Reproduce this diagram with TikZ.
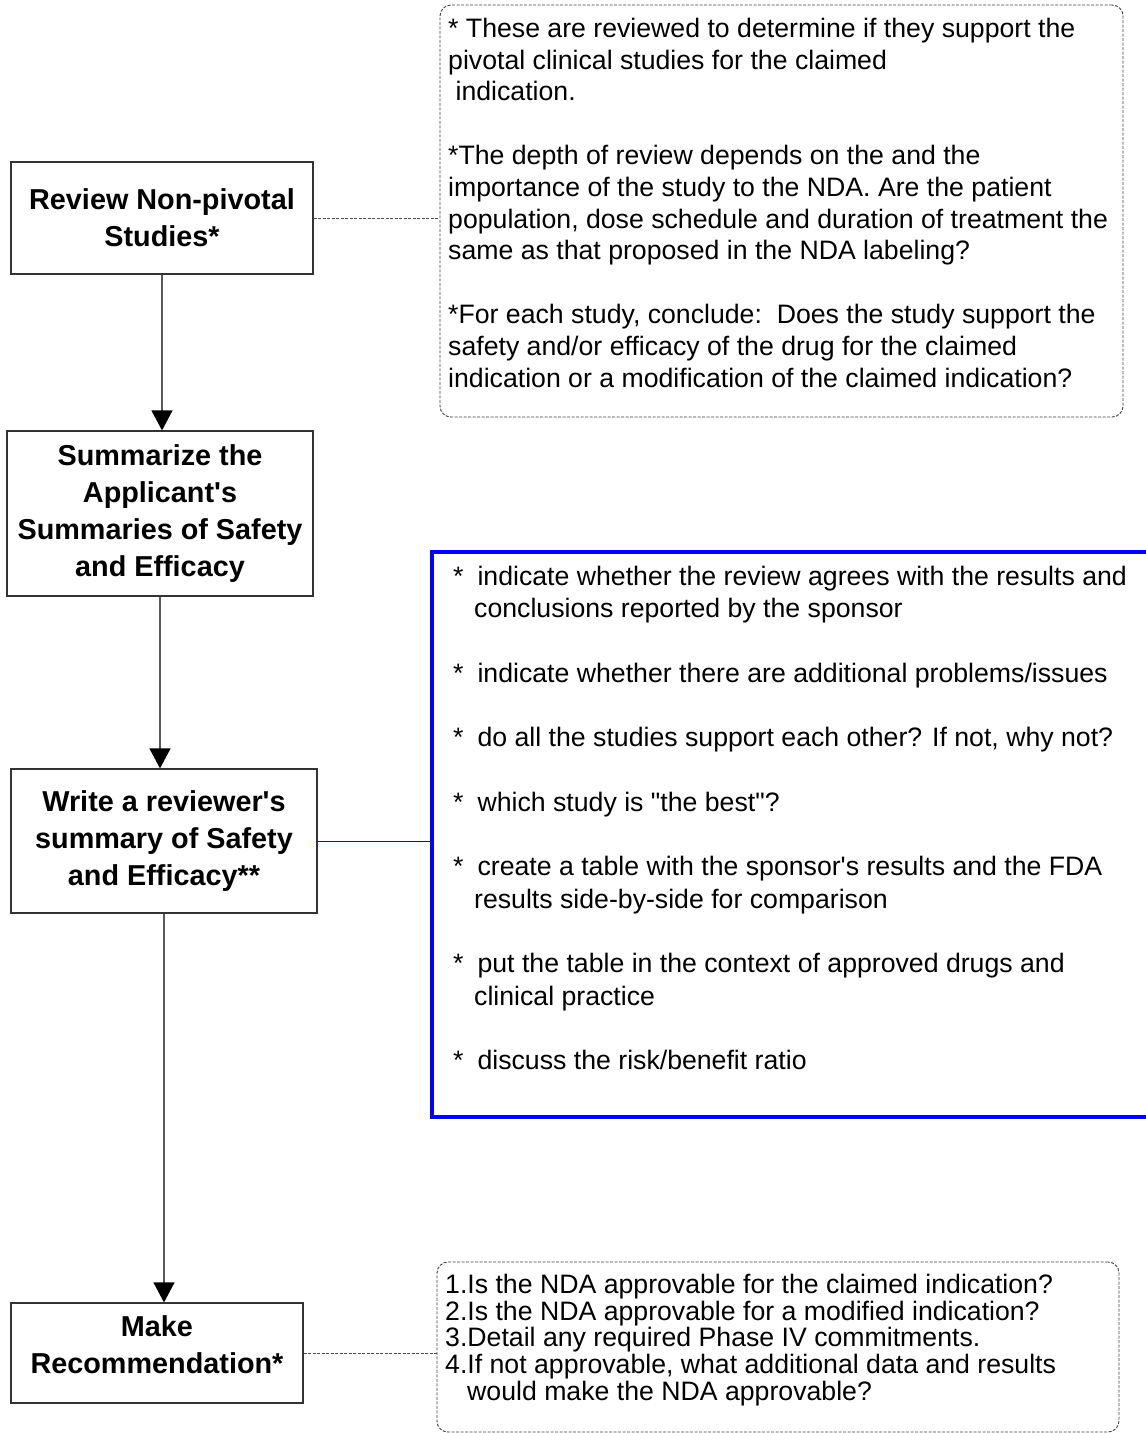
\documentclass[tikz,border=0pt]{standalone}
\usepackage{fontspec}
\setmainfont{Liberation Sans}[Ligatures=TeXOff]
\usetikzlibrary{arrows.meta}
\newcommand{\topstrut}{\rule{0pt}{22pt}}
\begin{document}
\begin{tikzpicture}[x=1pt,y=-1pt,
  stepbox/.style={draw=black!80, line width=1.2pt, inner sep=0pt, align=center,
    font=\bfseries\fontsize{28.8}{36.7}\selectfont},
  notebox/.style={draw=black!75, line width=0.9pt, dash pattern=on 3pt off 1.5pt,
    rounded corners=11pt, inner sep=0pt},
  notetext/.style={inner sep=0pt, anchor=north west, align=left},
  flow/.style={draw=black!65, line width=1.2pt,
    -{Triangle[width=21pt,length=20pt,color=black,fill=black]}},
  dashline/.style={draw=black!70, line width=0.9pt, dash pattern=on 3pt off 1.5pt},
  blueline/.style={draw=blue, line width=1pt}]
\useasboundingbox (0,0) rectangle (1146,1433);
\clip (0,0) rectangle (1146,1433);

% process steps
\node[stepbox, minimum width=302pt, minimum height=112pt] (b1) at (162,218)
  {Review Non-pivotal\\Studies*};
\node[stepbox, minimum width=306pt, minimum height=165pt] (b2) at (160,513.5)
  {Summarize the\\Applicant's\\Summaries of Safety\\and Efficacy};
\node[stepbox, minimum width=306pt, minimum height=144pt] (b3) at (164,841)
  {Write a reviewer's\\summary of Safety\\and Efficacy**};
\node[stepbox, minimum width=292pt, minimum height=100pt] (b4) at (157,1353) {};
\node[inner sep=0pt, align=center, font=\bfseries\fontsize{28.8}{36.7}\selectfont]
  (b4text) at (157,1345) {Make\\Recommendation*};

% flow arrows
\draw[flow] (b1.south) -- (b1.south |- b2.north);
\draw[flow] (b2.south) -- (b2.south |- b3.north);
\draw[flow] (b3.south) -- (b3.south |- b4.north);

% annotation for the non-pivotal review
\node[notebox, minimum width=683pt, minimum height=412pt] (n1) at (781.5,211) {};
\node[notetext, font=\fontsize{26.67}{31.8}\selectfont] (n1text) at (448,15)
  {\topstrut* These are reviewed to determine if they support the\\
   pivotal clinical studies for the claimed\\
   \ indication.\\[31.8pt]
   *The depth of review depends on the and the\\
   importance of the study to the NDA. Are the patient\\
   population, dose schedule and duration of treatment the\\
   same as that proposed in the NDA labeling?\\[31.8pt]
   *For each study, conclude:\ \ Does the study support the\\
   safety and/or efficacy of the drug for the claimed\\
   indication or a modification of the claimed indication?};
\draw[dashline] (b1.east) -- (b1.east -| n1.west);

% checklist for the reviewer's summary
\node[draw=blue, line width=4.5pt, inner sep=0pt, minimum width=718pt,
  minimum height=565pt] (blue) at (791,834.5) {};
\node[notetext, font=\fontsize{26.67}{32.3}\selectfont] (bluetext) at (453,563)
  {\topstrut*\hspace{14pt}indicate whether the review agrees with the results and\\
   \hspace{21pt}conclusions reported by the sponsor\\[32.3pt]
   *\hspace{14pt}indicate whether there are additional problems/issues\\[32.3pt]
   *\hspace{14pt}do all the studies support each other? If not, why not?\\[32.3pt]
   *\hspace{14pt}which study is "the best"?\\[32.3pt]
   *\hspace{14pt}create a table with the sponsor's results and the FDA\\
   \hspace{21pt}results side-by-side for comparison\\[32.3pt]
   *\hspace{14pt}put the table in the context of approved drugs and\\
   \hspace{21pt}clinical practice\\[32.3pt]
   *\hspace{14pt}discuss the risk/benefit ratio};
\draw[blueline] (b3.east) -- (b3.east -| blue.west);

% questions for the recommendation
\node[notebox, minimum width=682pt, minimum height=170pt] (n4) at (778,1347) {};
\node[notetext, font=\fontsize{26.67}{26.8}\selectfont] (n4text) at (445,1271)
  {\topstrut 1.Is the NDA approvable for the claimed indication?\\
   2.Is the NDA approvable for a modified indication?\\
   3.Detail any required Phase IV commitments.\\
   4.If not approvable, what additional data and results\\
   \hspace{22pt}would make the NDA approvable?};
\draw[dashline] (b4.east) -- (b4.east -| n4.west);
\end{tikzpicture}
\end{document}
